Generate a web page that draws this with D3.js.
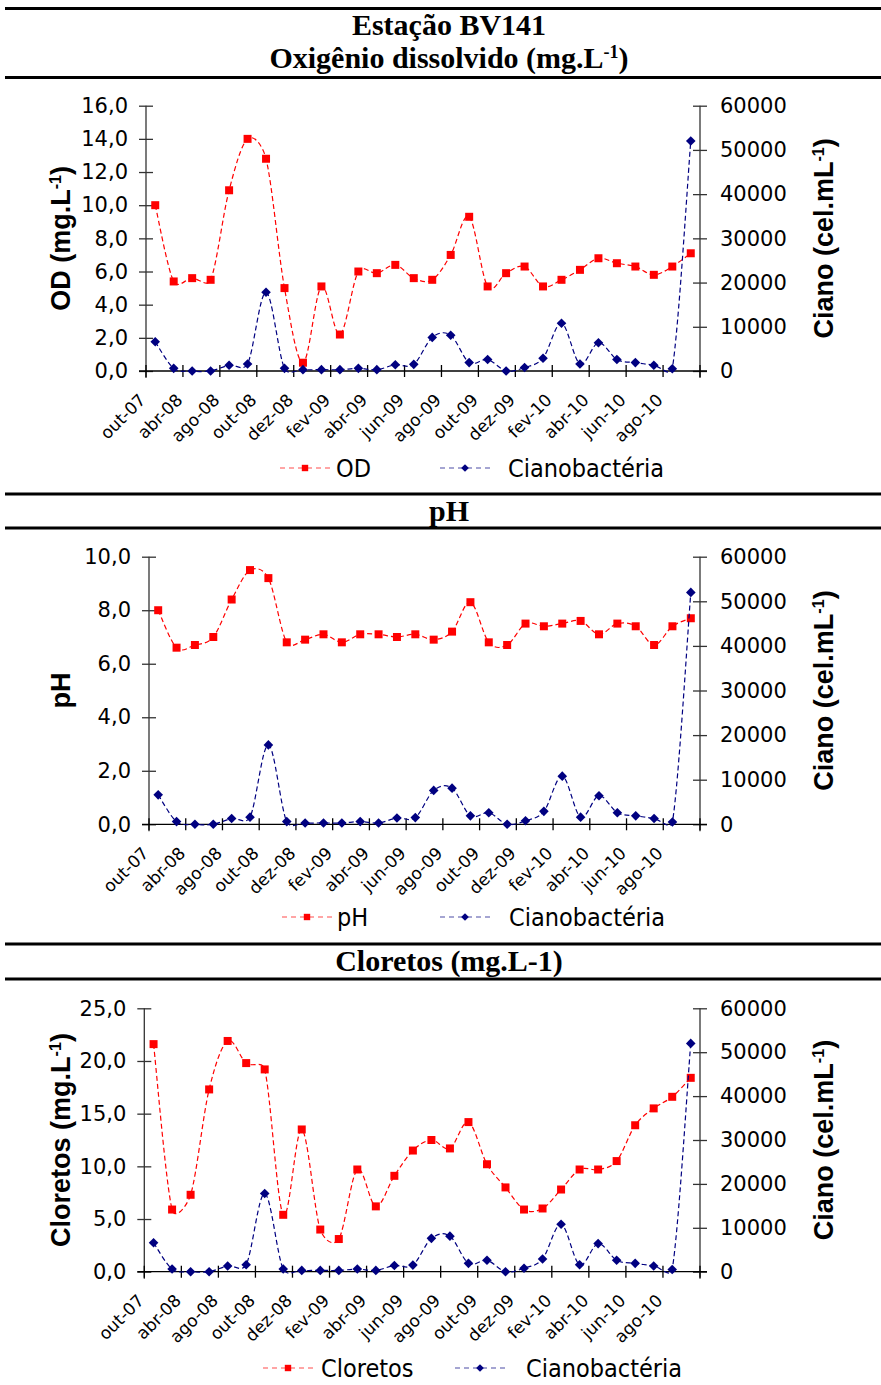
<!DOCTYPE html>
<html>
<head>
<meta charset="utf-8">
<script src="https://cdn.jsdelivr.net/npm/d3@7"></script>
<style>
  body { margin: 0; background: #fff; }
  svg { display: block; }
</style>
</head>
<body>
<div id="chart"></div>
<script>
// Sampling months (only every other one is labelled on the axis)
const months = ['out-07', 'jan-08', 'abr-08', 'jun-08', 'ago-08', 'set-08', 'out-08', 'nov-08',
    'dez-08', 'jan-09', 'fev-09', 'mar-09', 'abr-09', 'mai-09', 'jun-09', 'jul-09', 'ago-09',
    'set-09', 'out-09', 'nov-09', 'dez-09', 'jan-10', 'fev-10', 'mar-10', 'abr-10', 'mai-10',
    'jun-10', 'jul-10', 'ago-10', 'set-10'];

const odValues = [10.0, 5.4, 5.6, 5.5, 10.9, 14.0, 12.8, 5.0, 0.5, 5.1, 2.2, 6.0, 5.9, 6.4, 5.6,
    5.5, 7.0, 9.3, 5.1, 5.9, 6.3, 5.1, 5.5, 6.1, 6.8, 6.5, 6.3, 5.8, 6.3, 7.1];

const phValues = [8.0, 6.6, 6.7, 7.0, 8.4, 9.5, 9.2, 6.8, 6.9, 7.1, 6.8, 7.1, 7.1, 7.0, 7.1,
    6.9, 7.2, 8.3, 6.8, 6.7, 7.5, 7.4, 7.5, 7.6, 7.1, 7.5, 7.4, 6.7, 7.4, 7.7];

const cloretosValues = [21.6, 5.9, 7.3, 17.3, 21.9, 19.8, 19.2, 5.4, 13.5, 4.0, 3.1, 9.7, 6.2,
    9.1, 11.5, 12.5, 11.7, 14.2, 10.2, 8.0, 5.9, 6.0, 7.8, 9.7, 9.7, 10.5, 13.9, 15.5, 16.6, 18.4];

const cianoValues = [6600, 600, 0, 0, 1300, 1600, 17800, 600, 300, 300, 300, 600, 300, 1400,
    1500, 7600, 8100, 1900, 2600, 0, 800, 2900, 10800, 1600, 6400, 2600, 1900, 1300, 500, 52000];

const odTicks = [0, 2, 4, 6, 8, 10, 12, 14, 16];
const phTicks = [0, 2, 4, 6, 8, 10];
const cloretosTicks = [0, 5, 10, 15, 20, 25];
const cianoTicks = [0, 10000, 20000, 30000, 40000, 50000, 60000];

const W = 881, H = 1385;
const RED = '#ff0000', NAVY = '#000080';
const SANS = "'DejaVu Sans', Verdana, sans-serif";
const COND = "'DejaVu Sans Condensed', 'DejaVu Sans', sans-serif";
const BOLD_SANS = "'Liberation Sans', Arial, sans-serif";
const SERIF = "'Liberation Serif', 'Times New Roman', serif";

const ptBR = d3.formatLocale({ decimal: ',', thousands: '.', grouping: [3], currency: ['R$', ''] });
const fmt1 = ptBR.format('.1f');
const fmtInt = d3.format('d');

const svg = d3.select('#chart').append('svg')
    .attr('width', W)
    .attr('height', H)
    .attr('viewBox', `0 0 ${W} ${H}`);
svg.append('rect').attr('width', W).attr('height', H).attr('fill', '#fff');

// text with an optional superscript part
function richText(sel, parts) {
    parts.forEach(p => {
        const t = sel.append('tspan').text(p.t);
        if (p.sup) t.attr('font-size', '0.6em').attr('dy', '-0.55em');
        if (p.after) t.attr('dy', '0.33em');
    });
    return sel;
}

// Excel style smoothing: bezier with 1/6 tangents, control arm capped at half the segment
function excelSmooth(context) {
    let pts;
    return {
        areaStart() {}, areaEnd() {},
        lineStart() { pts = []; },
        point(x, y) { pts.push([x, y]); },
        lineEnd() {
            const n = pts.length;
            if (!n) return;
            context.moveTo(pts[0][0], pts[0][1]);
            for (let i = 0; i < n - 1; i++) {
                const p0 = pts[Math.max(i - 1, 0)], p1 = pts[i], p2 = pts[i + 1], p3 = pts[Math.min(i + 2, n - 1)];
                const d12 = Math.hypot(p2[0] - p1[0], p2[1] - p1[1]);
                const d02 = Math.hypot(p2[0] - p0[0], p2[1] - p0[1]);
                const d13 = Math.hypot(p3[0] - p1[0], p3[1] - p1[1]);
                let f1 = 1 / 6, f2 = 1 / 6;
                if (d02 > 0 && d02 / 6 > d12 / 2) f1 = d12 / 2 / d02;
                if (d13 > 0 && d13 / 6 > d12 / 2) f2 = d12 / 2 / d13;
                context.bezierCurveTo(
                    p1[0] + f1 * (p2[0] - p0[0]), p1[1] + f1 * (p2[1] - p0[1]),
                    p2[0] - f2 * (p3[0] - p1[0]), p2[1] - f2 * (p3[1] - p1[1]),
                    p2[0], p2[1]);
            }
        }
    };
}

const diamond = 'M0,-4.8L4.8,0L0,4.8L-4.8,0Z';
const square = 'M-4,-4H4V4H-4Z';

const panels = [
    {
        band: [8.5, 77.5],
        titles: [
            { y: 35, parts: [{ t: 'Estação BV141' }] },
            { y: 68, parts: [{ t: 'Oxigênio dissolvido (mg.L' }, { t: '-1', sup: true }, { t: ')', after: true }] }
        ],
        plot: { left: 146, right: 700, top: 105.7, bottom: 371 },
        values: odValues, ticks: odTicks,
        leftTitle: [{ t: 'OD (mg.L' }, { t: '-1', sup: true }, { t: ')', after: true }],
        legendName: 'OD', legendY: 468, legendX: [280, 440], legendText: [56, 68]
    },
    {
        band: [494, 528],
        titles: [{ y: 521, parts: [{ t: 'pH' }] }],
        plot: { left: 149, right: 700, top: 556.7, bottom: 824.3 },
        values: phValues, ticks: phTicks,
        leftTitle: [{ t: 'pH' }],
        legendName: 'pH', legendY: 917, legendX: [282, 440], legendText: [55, 69]
    },
    {
        band: [944, 979],
        titles: [{ y: 971, parts: [{ t: 'Cloretos (mg.L-1)' }] }],
        plot: { left: 144.3, right: 700, top: 1008.3, bottom: 1271.7 },
        values: cloretosValues, ticks: cloretosTicks,
        leftTitle: [{ t: 'Cloretos (mg.L' }, { t: '-1', sup: true }, { t: ')', after: true }],
        legendName: 'Cloretos', legendY: 1368, legendX: [263, 455], legendText: [58, 71]
    }
];

function drawPanel(p) {
    const g = svg.append('g');
    const { left, right, top, bottom } = p.plot;

    // title band
    p.band.forEach(y => {
        g.append('line').attr('x1', 5).attr('x2', W).attr('y1', y).attr('y2', y)
            .attr('stroke', '#000').attr('stroke-width', 3);
    });
    p.titles.forEach(tl => {
        richText(g.append('text')
            .attr('x', 449).attr('y', tl.y)
            .attr('text-anchor', 'middle')
            .attr('font-family', SERIF).attr('font-weight', 'bold').attr('font-size', 30), tl.parts);
    });

    const x = d3.scaleBand().domain(months).range([left, right]);
    const bw = x.bandwidth();
    const yL = d3.scaleLinear().domain([0, d3.max(p.ticks)]).range([bottom, top]);
    const yR = d3.scaleLinear().domain([0, d3.max(cianoTicks)]).range([bottom, top]);

    // y axes (ticks cross the axis line)
    const leftAxis = d3.axisLeft(yL).tickValues(p.ticks).tickFormat(fmt1).tickSizeInner(7).tickSizeOuter(0).tickPadding(11);
    const gl = g.append('g').attr('transform', `translate(${left},0)`).call(leftAxis);
    const rightAxis = d3.axisRight(yR).tickValues(cianoTicks).tickFormat(fmtInt).tickSizeInner(7).tickSizeOuter(0).tickPadding(13);
    const gr = g.append('g').attr('transform', `translate(${right},0)`).call(rightAxis);
    [gl, gr].forEach(a => {
        a.select('.domain').attr('stroke', '#333').attr('stroke-width', 1.3)
            .attr('d', `M0,${top}V${bottom + 7}`);
        a.selectAll('.tick line').attr('x1', -7).attr('x2', 7).attr('stroke', '#333').attr('stroke-width', 1.3);
        a.selectAll('.tick text').attr('font-family', SANS).attr('font-size', 21).attr('fill', '#000');
    });

    // x axis
    const xg = g.append('g');
    xg.append('line').attr('x1', left - 7).attr('x2', right + 7).attr('y1', bottom).attr('y2', bottom)
        .attr('stroke', '#000').attr('stroke-width', 1.3);
    const labelled = months.filter((m, i) => i % 2 === 0);
    const tickXs = labelled.map(m => x(m)).concat([right]);
    xg.selectAll('.xt').data(tickXs).enter().append('line')
        .attr('x1', d => d).attr('x2', d => d)
        .attr('y1', bottom - 6).attr('y2', bottom + 6)
        .attr('stroke', '#000').attr('stroke-width', 1.3);
    xg.selectAll('.xl').data(labelled).enter().append('text')
        .attr('transform', d => `translate(${x(d) + bw / 2 - 8.5},${bottom + 30}) rotate(-45)`)
        .attr('text-anchor', 'end')
        .attr('font-family', SANS).attr('font-size', 17)
        .text(d => d);

    // axis titles
    richText(g.append('text')
        .attr('transform', `translate(70,${(top + bottom) / 2}) rotate(-90)`)
        .attr('text-anchor', 'middle')
        .attr('font-family', BOLD_SANS).attr('font-weight', 'bold').attr('font-size', 27), p.leftTitle);
    richText(g.append('text')
        .attr('transform', `translate(833,${(top + bottom) / 2}) rotate(-90)`)
        .attr('text-anchor', 'middle')
        .attr('font-family', BOLD_SANS).attr('font-weight', 'bold').attr('font-size', 27),
        [{ t: 'Ciano (cel.mL' }, { t: '-1', sup: true }, { t: ')', after: true }]);

    // series
    const cx = i => x(months[i]) + bw / 2;
    const series = [
        { vals: p.values, y: yL, color: RED, shape: square },
        { vals: cianoValues, y: yR, color: NAVY, shape: diamond }
    ];
    series.forEach(s => {
        const line = d3.line()
            .x((d, i) => cx(i))
            .y(d => s.y(d))
            .curve(excelSmooth);
        g.append('path').datum(s.vals)
            .attr('d', line)
            .attr('fill', 'none')
            .attr('stroke', s.color)
            .attr('stroke-width', 1.2)
            .attr('stroke-dasharray', '5,3');
        g.selectAll(null).data(s.vals).enter().append('path')
            .attr('d', s.shape)
            .attr('transform', (d, i) => `translate(${cx(i)},${s.y(d)})`)
            .attr('fill', s.color);
    });

    // legend
    const items = [
        { name: p.legendName, color: RED, shape: square },
        { name: 'Cianobactéria', color: NAVY, shape: diamond }
    ];
    items.forEach((it, k) => {
        const lx = p.legendX[k], ly = p.legendY;
        const lg = g.append('g').attr('class', 'legend');
        lg.append('line').attr('x1', lx).attr('x2', lx + 50).attr('y1', ly).attr('y2', ly)
            .attr('stroke', it.color).attr('stroke-width', 1.2).attr('stroke-dasharray', '5,4')
            .attr('opacity', 0.7);
        lg.append('path').attr('d', it.shape)
            .attr('transform', `translate(${lx + 25},${ly}) scale(0.8)`)
            .attr('fill', it.color);
        lg.append('text').attr('x', lx + p.legendText[k]).attr('y', ly + 9)
            .attr('font-family', COND).attr('font-stretch', 'condensed').attr('font-size', 25)
            .text(it.name);
    });
}

panels.forEach(drawPanel);
</script>
</body>
</html>
